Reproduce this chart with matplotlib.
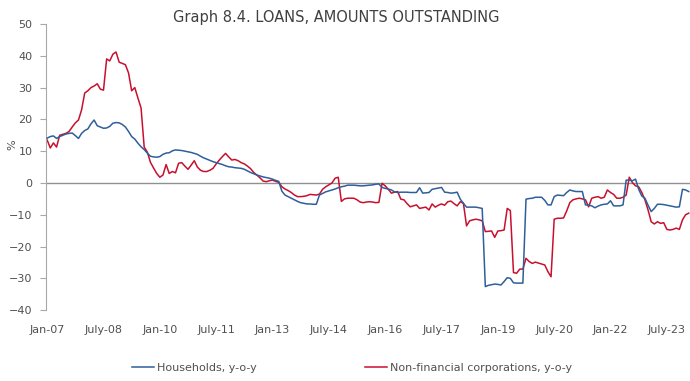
import numpy as np
import matplotlib
matplotlib.use("Agg")
import matplotlib.pyplot as plt

plt.rcParams['font.family'] = ['Liberation Sans Narrow', 'DejaVu Sans']

# monthly y-o-y growth, Jan-07 .. Feb-24
households = [
    14.1, 14.6, 14.8, 14.0, 14.6, 15.0, 15.4, 15.6, 15.7, 14.9, 14.0, 15.6,
    16.5, 17.0, 18.6, 19.8, 18.0, 17.6, 17.2, 17.3, 17.8, 18.8, 19.0, 18.9,
    18.4, 17.6, 16.2, 14.6, 13.8, 12.5, 11.4, 10.5, 9.4, 8.4, 8.2, 8.1,
    8.3, 9.0, 9.4, 9.5, 10.1, 10.4, 10.3, 10.2, 10.0, 9.8, 9.6, 9.3,
    9.0, 8.4, 7.9, 7.5, 7.1, 6.7, 6.4, 6.1, 5.8, 5.4, 5.1, 5.0,
    4.8, 4.7, 4.6, 4.3, 3.8, 3.3, 2.9, 2.5, 2.2, 1.9, 1.7, 1.5,
    1.2, 0.8, 0.5, -2.6, -3.8, -4.3, -4.8, -5.3, -5.8, -6.2, -6.4, -6.6,
    -6.6, -6.7, -6.7, -3.8, -3.3, -2.8, -2.5, -2.2, -1.9, -1.5, -1.2, -1.0,
    -0.7, -0.7, -0.7, -0.8, -0.9, -0.9, -0.8, -0.7, -0.6, -0.4, -0.3, -1.4,
    -1.7, -1.9, -2.2, -2.8, -3.0, -2.9, -2.9, -2.9, -3.0, -3.0, -3.0, -1.5,
    -3.2, -3.1, -3.0, -2.0, -1.8, -1.6, -1.4, -2.9, -3.0, -3.2, -3.1, -2.9,
    -5.1, -6.4, -7.6, -7.6, -7.6, -7.6, -7.8, -8.0, -32.6, -32.2, -32.0, -31.8,
    -31.9, -32.1, -31.0, -29.8, -30.0, -31.4, -31.5, -31.5, -31.5, -5.1, -4.9, -4.8,
    -4.5, -4.5, -4.5, -5.5, -6.9, -6.9, -4.3, -3.8, -3.9, -4.0, -3.0, -2.2,
    -2.5, -2.7, -2.7, -2.7, -6.9, -7.0, -7.2, -7.8, -7.3, -6.9, -6.7, -6.6,
    -5.6, -7.2, -7.2, -7.2, -6.9, 0.9, 0.9, 0.7, 1.2, -2.0, -4.1, -4.8,
    -7.0, -9.0, -8.0, -6.7, -6.7, -6.8, -7.0, -7.2, -7.4, -7.6, -7.5, -2.0,
    -2.2, -2.7,
]
corporations = [
    13.5, 11.0, 12.6, 11.3, 15.0, 15.3, 15.6, 16.2, 17.6, 18.9, 19.8, 23.0,
    28.3, 29.0, 30.0, 30.5, 31.2, 29.5, 29.2, 39.0, 38.4, 40.5, 41.2, 38.0,
    37.6, 37.2, 34.6, 29.0, 30.0, 26.7, 23.6, 11.3, 9.7, 6.5, 4.7, 3.0,
    1.8, 2.5, 5.8, 3.0, 3.6, 3.2, 6.2, 6.4, 5.3, 4.3, 5.6, 7.0,
    5.0, 4.0, 3.6, 3.6, 4.0, 4.6, 6.0, 7.2, 8.3, 9.3, 8.2, 7.2,
    7.4, 7.0, 6.4, 6.0, 5.3, 4.5, 3.3, 2.5, 1.6, 0.6, 0.4, 0.7,
    0.9, 0.5, 0.2, -1.2, -1.9, -2.4, -3.0, -3.8, -4.3, -4.3, -4.2, -4.0,
    -3.6, -3.7, -3.8, -3.5, -2.0, -1.2, -0.6, 0.0, 1.5, 1.8, -5.8, -5.0,
    -4.8, -4.8, -4.8, -5.3, -6.0, -6.2, -6.0, -5.9, -6.0, -6.2, -6.1, -0.1,
    -0.9, -2.0, -3.2, -2.9, -2.7, -5.1, -5.3, -6.5, -7.5, -7.2, -6.9, -8.0,
    -7.8, -7.6, -8.5, -6.6, -7.6, -7.0, -6.6, -7.0, -5.9, -5.7, -6.5, -7.2,
    -5.9, -6.4, -13.5, -11.9, -11.6, -11.4, -11.6, -11.9, -15.3, -15.2, -15.1, -17.1,
    -15.1, -15.0, -14.8, -8.0, -8.7, -28.2, -28.4, -27.1, -27.1, -23.7, -24.7, -25.3,
    -24.9, -25.2, -25.5, -25.8, -27.9, -29.5, -11.4, -11.1, -11.1, -11.0, -8.8, -6.2,
    -5.3, -5.0, -4.8, -5.0, -5.3, -7.5, -4.8, -4.5, -4.3, -4.8, -4.5, -2.2,
    -3.0, -3.6, -4.8, -4.8, -4.5, -3.8, 1.8, 0.1, -0.9, -1.2, -3.0, -5.3,
    -8.5, -12.2, -12.9, -12.2, -12.7, -12.5, -14.6, -14.8, -14.6, -14.2, -14.6, -11.6,
    -10.0, -9.5,
]
tick_labels = ['Jan-07', 'July-08', 'Jan-10', 'July-11', 'Jan-13', 'July-14',
               'Jan-16', 'July-17', 'Jan-19', 'July-20', 'Jan-22', 'July-23']

months = np.arange(len(households))
tick_pos = np.arange(len(tick_labels)) * 18

fig = plt.figure(figsize=(6.9, 3.81), dpi=100)
ax = fig.add_axes([0.067, 0.186, 0.933, 0.751])

ax.axhline(0, color='#909090', lw=1.0, zorder=1)
ax.plot(months, households, color='#2e5f9a', lw=1.1, label='Households, y-o-y', zorder=3)
ax.plot(months, corporations, color='#c8102e', lw=1.1, label='Non-financial corporations, y-o-y', zorder=2)

ax.set_xlim(-0.3, 205.4)
ax.set_ylim(-40, 50)
ax.set_yticks(np.arange(-40, 51, 10))
ax.set_xticks(tick_pos)
ax.set_xticklabels(tick_labels)

for s in ['top', 'right', 'bottom']:
    ax.spines[s].set_visible(False)
ax.spines['left'].set_color('#a8a8a8')
ax.tick_params(axis='y', direction='out', length=4, color='#a8a8a8',
               labelsize=8, labelcolor='#505050', pad=6)
ax.tick_params(axis='x', length=0, labelsize=8, labelcolor='#505050', pad=11)

# unit label sits left of the tick labels
fig.text(12 / 690, 1 - 145 / 381, '%', rotation=90, ha='center', va='center',
         fontsize=8, color='#505050')

fig.text(0.487, 0.955, 'Graph 8.4. LOANS, AMOUNTS OUTSTANDING', ha='center', va='center',
         fontsize=10.5, color='#404040')

fig.legend(loc='center', bbox_to_anchor=(0.51, 0.035), ncol=2, frameon=False,
           fontsize=8, handlelength=2.0, handletextpad=0.2, columnspacing=9.8,
           labelcolor='#505050')

fig.savefig('out.png', dpi=100)
